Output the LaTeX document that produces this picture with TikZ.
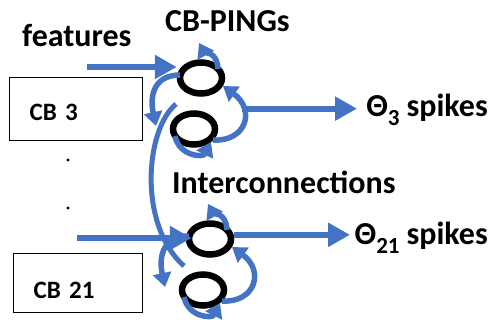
\documentclass[tikz,border=0pt]{standalone}
\usepackage{fontspec}
\setmainfont{Carlito}
\usepackage{xcolor}
\definecolor{pingblue}{RGB}{68,114,196}
\usepackage{tikz}
\usetikzlibrary{
  shapes.geometric,
  arrows.meta,
  positioning,
  calc
}
\newcommand{\spk}[1]{Θ\raisebox{-9pt}{\fontsize{23}{23}\selectfont #1}\hspace{7pt}spikes}

\begin{document}
\begin{tikzpicture}[
  x=1pt, y=-1pt,
  ring/.style={ellipse, draw=black, line width=6.5pt, minimum width=42pt, minimum height=31pt, inner sep=0pt},
  cb/.style={rectangle, draw=black, line width=1.2pt, font=\fontsize{25}{27}\selectfont\bfseries, align=left, inner xsep=20pt, inner ysep=0pt, anchor=north west},
  lbl/.style={font=\fontsize{32}{34}\selectfont\bfseries, inner sep=0pt},
  dot/.style={circle, fill=black, inner sep=0pt, minimum size=3.2pt},
  feed/.style={draw=pingblue, line width=6pt, -{Triangle[length=22pt,width=23pt]}},
  loop/.style={draw=pingblue, line width=5.5pt, -{Triangle[length=14pt,width=18pt]}},
  bridge/.style={draw=pingblue, line width=5pt}
]
  \useasboundingbox (0,0) rectangle (490,320);

  \node[cb, minimum width=133pt, minimum height=63pt, text width=93pt, text height=25pt, text depth=2pt] (cb3) at (9,77) {CB 3};
  \node[cb, minimum width=129pt, minimum height=59pt, text width=89pt, text height=32pt, text depth=2pt] (cb21) at (13,253) {CB 21};
  \node[dot] (d1) at (68,160) {};
  \node[dot] (d2) at (68,208) {};

  \foreach \g/\ux/\uy in {3/201/78, 21/210/239} {
    \begin{scope}[shift={(\ux,\uy)}]
      \node[ring] (u\g) at (0,0) {};
      \node[ring] (l\g) at (-7,51) {};
      \draw[loop] (17,-9) .. controls (16,-27) and (3,-26) .. (-2,-35);
      \draw[loop] (-21,-3) .. controls (-45,-3) and (-52,15) .. (-45,48);
      \draw[loop] (12,62) .. controls (45,64) and (55,32) .. (22,8)
        coordinate[pos=0.7] (sp\g);
      \draw[loop] (-26,58) .. controls (-22,78) and (2,80) .. (10,64);
    \end{scope}
  }

  \coordinate (ictop) at (176,104);
  \coordinate (icbot) at (184,266);
  \draw[bridge] (ictop) .. controls (145,130) and (138,225) .. (icbot);

  \coordinate (f3) at (87,67);
  \coordinate (f21) at (77,238);
  \draw[feed] (f3) -- (f3 -| u3.west);
  \draw[feed] (f21) -- ($(f21 -| u21.west)+(6,0)$);

  \coordinate (o3) at (357,103);
  \coordinate (o21) at (350,235);
  \draw[feed] (sp3) -- (sp3 -| o3);
  \draw[feed] (u21.10) -- (u21.10 -| o21);

  \node[lbl, anchor=base west] (feat) at (22,47) {features};
  \node[lbl, anchor=base west] (ping) at (165,32) {CB-PINGs};
  \node[lbl, anchor=base west] (inter) at (172,194) {Interconnections};
  \node[lbl, anchor=base east] (t3) at (488,117) {\spk{3}};
  \node[lbl, anchor=base east] (t21) at (488,245) {\spk{21}};
\end{tikzpicture}
\end{document}
